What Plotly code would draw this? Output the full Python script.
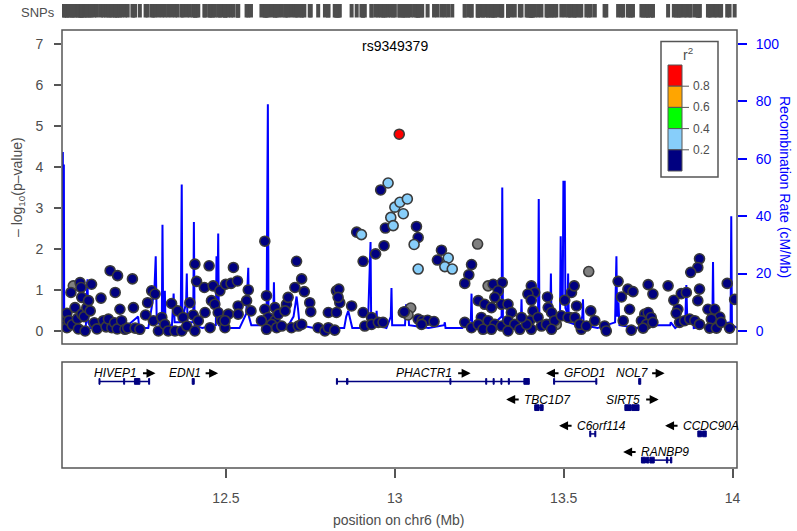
import plotly.graph_objects as go

# ---- data ----
# SNPs: position (Mb), -log10(p), r2 (None = no LD info)
navy_pos = [12.020, 12.022, 12.029, 12.029, 12.035, 12.041, 12.045, 12.053, 12.060, 12.063,
            12.068, 12.071, 12.073, 12.073, 12.080, 12.083, 12.088, 12.093, 12.098, 12.102,
            12.110, 12.118, 12.130, 12.137, 12.145, 12.152, 12.157, 12.162, 12.170, 12.172,
            12.178, 12.179, 12.186, 12.191, 12.201, 12.209, 12.223, 12.226, 12.231, 12.245,
            12.262, 12.268, 12.280, 12.285, 12.290, 12.300, 12.310, 12.319, 12.329, 12.339,
            12.349, 12.357, 12.369, 12.373, 12.384, 12.393, 12.403, 12.408, 12.408, 12.413,
            12.418, 12.436, 12.438, 12.450, 12.453, 12.457, 12.462, 12.467, 12.477, 12.482,
            12.487, 12.497, 12.499, 12.507, 12.515, 12.522, 12.534, 12.566, 12.561, 12.536,
            12.574, 12.536, 12.497, 12.615, 12.620, 12.615, 12.645, 12.625, 12.645, 12.655,
            12.635, 12.605, 12.620, 12.650, 12.679, 12.684, 12.675, 12.665, 12.694, 12.704,
            12.709, 12.714, 12.724, 12.724, 12.732, 12.748, 12.751, 12.773, 12.793, 12.803,
            12.822, 12.827, 12.834, 12.837, 12.832, 12.803, 12.827, 12.872, 12.906, 12.931,
            12.911, 12.931, 12.951, 12.965, 13.025, 12.887, 12.958, 12.972, 12.968, 12.943,
            12.906, 13.028, 13.064, 13.069, 13.138, 13.126, 13.227, 13.219, 13.207, 13.069,
            13.081, 13.097, 13.116, 13.079, 13.207, 13.227, 13.291, 13.318, 13.306, 13.247,
            13.266, 13.286, 13.316, 13.296, 13.335, 13.345, 13.256, 13.276, 13.296, 13.316,
            13.335, 13.355, 13.370, 13.247, 13.261, 13.286, 13.335, 13.404, 13.414, 13.394,
            13.404, 13.409, 13.399, 13.424, 13.434, 13.404, 13.452, 13.454, 13.464, 13.449,
            13.473, 13.493, 13.503, 13.523, 13.518, 13.464, 13.390, 13.375, 13.531, 13.538,
            13.513, 13.533, 13.552, 13.547, 13.567, 13.592, 13.580, 13.621, 13.626, 13.661,
            13.671, 13.695, 13.690, 13.705, 13.676, 13.700, 13.750, 13.764, 13.740, 13.750,
            13.759, 13.730, 13.745, 13.735, 13.764, 13.809, 13.826, 13.848, 13.863, 13.838,
            13.833, 13.843, 13.858, 13.873, 13.888, 13.902, 13.902, 13.897, 13.876, 13.902,
            13.897, 13.927, 13.947, 13.962, 13.937, 13.932, 13.952, 13.966, 13.984, 13.991,
            14.006]
navy_logp = [0.20, 0.35, 0.43, 0.08, 0.25, 0.94, 0.15, 0.57, 0.30, 0.05,
             1.18, 1.06, 0.82, 0.41, 0.35, 0.00, 0.57, 0.74, 0.49, 1.14,
             0.20, 0.05, 0.80, 0.25, 0.10, 0.29, 1.47, 0.08, 0.20, 0.94,
             0.05, 1.35, 0.53, 0.25, 0.04, 0.07, 1.27, 0.57, 0.07, 0.04,
             0.39, 0.69, 0.98, 0.25, 0.90, 0.00, 0.33, 0.16, 0.00, 0.67,
             0.00, 0.49, 0.00, 0.33, 0.12, 0.69, 0.39, 1.63, 0.00, 1.21,
             0.25, 1.06, 0.45, 1.59, 0.08, 0.74, 1.10, 0.65, 0.45, 0.98,
             0.25, 0.08, 1.14, 0.41, 1.16, 1.55, 1.22, 1.00, 0.74, 0.61,
             0.49, 0.41, 0.25, 2.19, 0.86, 0.53, 0.57, 0.33, 0.25, 0.41,
             0.16, 0.25, 0.04, 0.08, 0.65, 0.82, 0.49, 0.12, 0.08, 1.06,
             1.70, 0.12, 1.27, 0.16, 0.96, 0.69, 0.47, 0.08, 0.00, 0.08,
             0.02, 0.98, 1.02, 0.69, 0.82, 0.45, 0.45, 0.61, 0.45, 0.33,
             0.12, 0.16, 0.21, 0.21, 0.45, 2.41, 3.44, 2.51, 2.08, 1.88,
             1.70, 0.47, 2.55, 2.28, 1.97, 1.73, 1.62, 1.37, 1.16, 0.29,
             0.25, 0.26, 0.23, 0.16, 0.21, 0.08, 1.14, 1.18, 0.98, 0.74,
             0.65, 0.57, 0.65, 0.82, 0.65, 0.45, 0.33, 0.25, 0.16, 0.12,
             0.25, 0.16, 0.04, 0.16, 0.04, 0.04, 0.00, 1.10, 0.94, 0.90,
             0.75, 0.49, 0.25, 0.33, 0.12, 0.04, 0.83, 0.57, 0.45, 0.16,
             0.25, 0.37, 0.75, 0.94, 0.33, 0.04, 0.16, 0.33, 1.10, 0.61,
             0.33, 0.33, 0.04, 0.16, 0.12, 0.25, 0.49, 0.12, 0.00, 1.21,
             0.83, 0.53, 1.02, 0.96, 0.25, 0.02, 1.13, 0.90, 0.41, 0.45,
             0.33, 0.25, 0.16, 0.07, 0.21, 1.10, 0.75, 0.91, 0.94, 0.53,
             0.43, 0.21, 0.25, 0.29, 0.25, 0.16, 1.76, 1.55, 1.43, 1.02,
             0.74, 0.53, 0.53, 0.34, 0.29, 0.07, 0.07, 0.21, 1.16, 0.07,
             0.77]
ltblue_pos = [12.980, 13.000, 13.015, 13.037, 13.025, 12.988, 12.995, 12.901, 13.057, 13.069,
              13.158, 13.148, 13.170]
ltblue_logp = [3.61, 3.02, 3.14, 3.22, 2.86, 2.77, 2.57, 2.35, 2.11, 1.51,
               1.78, 1.57, 1.51]
gray_pos = [12.048, 13.047, 13.039, 13.245, 13.276, 13.478, 13.574]
gray_logp = [1.10, 0.56, 0.39, 2.12, 1.10, 0.16, 1.45]
lead_snp = "rs9349379"
lead_pos = [13.013]
lead_logp = [4.80]

# r2 estimates per group
navy_r2 = 0.1
ltblue_r2 = 0.3
lead_r2 = 1.0

# recombination rate (cM/Mb)
recomb_pos = [12.015, 12.017, 12.018, 12.019, 12.020, 12.021, 12.040, 12.060, 12.085, 12.088,
              12.090, 12.092, 12.100, 12.140, 12.200, 12.240, 12.243, 12.270, 12.288, 12.292,
              12.295, 12.310, 12.312, 12.314, 12.319, 12.321, 12.340, 12.345, 12.348, 12.366,
              12.369, 12.371, 12.382, 12.384, 12.386, 12.403, 12.405, 12.407, 12.430, 12.470,
              12.472, 12.474, 12.477, 12.479, 12.500, 12.540, 12.560, 12.566, 12.568, 12.575,
              12.620, 12.624, 12.626, 12.640, 12.642, 12.644, 12.680, 12.700, 12.705, 12.709,
              12.713, 12.718, 12.760, 12.800, 12.850, 12.856, 12.862, 12.868, 12.874, 12.920,
              12.928, 12.930, 12.944, 12.946, 12.948, 12.975, 12.988, 12.990, 12.992, 13.030,
              13.033, 13.039, 13.042, 13.100, 13.146, 13.148, 13.150, 13.200, 13.225, 13.227,
              13.229, 13.280, 13.316, 13.318, 13.320, 13.373, 13.375, 13.377, 13.424, 13.426,
              13.428, 13.460, 13.462, 13.464, 13.489, 13.491, 13.493, 13.497, 13.499, 13.503,
              13.505, 13.511, 13.513, 13.515, 13.540, 13.555, 13.557, 13.559, 13.600, 13.652,
              13.654, 13.656, 13.658, 13.662, 13.665, 13.720, 13.757, 13.759, 13.761, 13.815,
              13.817, 13.830, 13.860, 13.863, 13.866, 13.881, 13.883, 13.885, 13.940, 13.942,
              13.944, 13.994, 13.996, 13.998, 14.015]
recomb_rate = [62, 62, 2, 58, 58, 1, 1, 2, 1, 12,
               18, 3, 1, 0.5, 1, 5, 1, 1, 14, 26,
               3, 2, 37, 4, 14, 2, 2, 13, 3, 3,
               51, 4, 10, 20, 3, 3, 38, 2, 1, 2,
               26, 3, 34, 2, 1, 1, 6, 22, 5, 2,
               2, 79, 3, 4, 17, 3, 1, 5, 10, 12,
               8, 2, 1, 1, 1, 5, 7, 4, 1, 1,
               31, 2, 3, 7, 2, 1, 5, 15, 2, 2,
               9, 9, 2, 1, 2, 3, 1, 1, 4, 13,
               2, 1, 5, 50, 3, 3, 11, 2, 5, 46,
               3, 4, 20, 3, 5, 33, 10, 10, 52, 52,
               8, 6, 20, 3, 2, 5, 11, 2, 1, 3,
               26, 26, 5, 10, 2, 1, 4, 7, 2, 2,
               3, 1, 4, 16, 3, 3, 5, 1, 2, 24,
               2, 3, 40, 2, 1]

# genes
gene_names = ["HIVEP1", "EDN1", "PHACTR1", "GFOD1", "NOL7", "TBC1D7", "SIRT5", "C6orf114", "CCDC90A", "RANBP9"]
gene_start = [12.125, 12.400, 12.827, 13.470, 13.722, 13.414, 13.681, 13.577, 13.897, 13.730]
gene_end = [12.274, 12.406, 13.398, 13.598, 13.728, 13.439, 13.723, 13.595, 13.922, 13.820]
gene_strand = ["+", "+", "+", "-", "+", "-", "+", "-", "-", "-"]
gene_row = [1, 1, 1, 1, 1, 2, 2, 3, 3, 4]
gene_exons = [
    [(12.124, 12.127), (12.197, 12.200), (12.229, 12.245), (12.271, 12.274)],
    [(12.400, 12.406)],
    [(12.827, 12.830), (12.857, 12.861), (13.163, 13.166), (13.269, 13.272), (13.291, 13.294),
     (13.314, 13.317), (13.336, 13.339), (13.382, 13.398)],
    [(13.470, 13.473), (13.595, 13.598)],
    [(13.722, 13.728)],
    [(13.414, 13.427), (13.430, 13.439)],
    [(13.681, 13.700), (13.702, 13.723)],
    [(13.577, 13.580), (13.592, 13.595)],
    [(13.897, 13.908), (13.911, 13.922)],
    [(13.730, 13.742), (13.745, 13.752), (13.755, 13.768), (13.804, 13.808), (13.816, 13.820)],
]

r2_breaks = [0.0, 0.2, 0.4, 0.6, 0.8, 1.0]
r2_colors = ["#000080", "#87CEFA", "#00FF00", "#FFA500", "#FF0000"]
na_color = "#808080"

x_range = [12.0145, 14.013]
p_ticks = [0, 1, 2, 3, 4, 5, 6, 7]
rec_ticks = [0, 20, 40, 60, 80, 100]
pos_ticks = [12.5, 13, 13.5, 14]
pos_ticktext = ["12.5", "13", "13.5", "14"]

FONT = "Liberation Sans, Arial, Helvetica, sans-serif"
GREY = "#4d4d4d"
W, H = 797, 531


def r2_color(v):
    if v is None:
        return na_color
    for lo, hi, c in zip(r2_breaks[:-1], r2_breaks[1:], r2_colors):
        if lo <= v <= hi:
            return c
    return na_color


def px(x):
    return x / W


def py(y):
    return 1 - y / H


X_DOM = [px(62), px(737)]
MAIN_DOM = [py(344), py(30)]
GENE_DOM = [py(468), py(362)]
RUG_DOM = [py(17.5), py(4)]

fig = go.Figure()

# recombination rate, on base axis so it sits behind the points
fig.add_trace(go.Scatter(x=recomb_pos, y=recomb_rate, mode="lines",
                         line=dict(color="#0000FF", width=2),
                         xaxis="x", yaxis="y", hoverinfo="skip", showlegend=False))

# points, lowest LD first
groups = [(gray_pos, gray_logp, None), (navy_pos, navy_logp, navy_r2),
          (ltblue_pos, ltblue_logp, ltblue_r2), (lead_pos, lead_logp, lead_r2)]
for gx, gy, r2 in groups:
    fig.add_trace(go.Scatter(x=gx, y=gy, mode="markers",
                             marker=dict(size=10, color=r2_color(r2),
                                         line=dict(color="#3a3a3a", width=1.6)),
                             xaxis="x", yaxis="y2", showlegend=False))

# SNP rug
all_pos = gray_pos + navy_pos + ltblue_pos + lead_pos
fig.add_trace(go.Scatter(x=all_pos, y=[0.5] * len(all_pos), mode="markers",
                         marker=dict(symbol="line-ns", size=14,
                                     line=dict(color="#4d4d4d", width=4)),
                         xaxis="x3", yaxis="y4", hoverinfo="skip", showlegend=False))

# genes
shapes = []
annotations = []
gene_col = "#000080"
for name, s, e, strand, row, exons in zip(gene_names, gene_start, gene_end, gene_strand, gene_row, gene_exons):
    fig.add_trace(go.Scatter(x=[s, e], y=[row, row], mode="lines",
                             line=dict(color=gene_col, width=1.5),
                             xaxis="x2", yaxis="y3", hoverinfo="skip", showlegend=False))
    for e0, e1 in exons:
        shapes.append(dict(type="rect", xref="x2", yref="y3", x0=e0, x1=e1,
                           y0=row - 0.11, y1=row + 0.11, fillcolor=gene_col,
                           line=dict(color=gene_col, width=1), layer="above"))
    # label with strand arrow, centred on gene
    tw = sum(3.6 if c in "Ifr" else 7.0 if c.isdigit() else 8.6 if c.isupper() else 6.6 for c in name)
    alen, gap = 14, 3
    total = tw + gap + alen
    left = -total / 2
    centre = (s + e) / 2
    ly = row - 0.31
    if strand == "+":
        txt_shift, head_shift, ax = left, left + tw + gap + alen, -alen
    else:
        txt_shift, head_shift, ax = left + alen + gap, left, alen
    annotations.append(dict(x=centre, y=ly, xref="x2", yref="y3", text="<i>%s</i>" % name,
                            showarrow=False, xanchor="left", yanchor="middle", xshift=txt_shift,
                            borderpad=0, font=dict(size=12, color="black", family=FONT)))
    annotations.append(dict(x=centre, y=ly, xref="x2", yref="y3", text="", showarrow=True,
                            ax=ax, ay=0, xshift=head_shift, arrowhead=2, arrowsize=0.9,
                            arrowwidth=2, arrowcolor="black"))

# panel boxes
for dom in (MAIN_DOM, GENE_DOM):
    shapes.append(dict(type="rect", xref="paper", yref="paper", x0=X_DOM[0], x1=X_DOM[1],
                       y0=dom[0], y1=dom[1], line=dict(color="#555555", width=1.5), layer="above"))

# r2 legend
shapes.append(dict(type="rect", xref="paper", yref="paper", x0=px(661), x1=px(718),
                   y0=py(177), y1=py(41.5), fillcolor="white",
                   line=dict(color="#555555", width=1.5), layer="above"))
top, bot = 65, 171
step = (bot - top) / len(r2_colors)
for i, c in enumerate(reversed(r2_colors)):
    y1 = top + i * step
    shapes.append(dict(type="rect", xref="paper", yref="paper", x0=px(668), x1=px(682),
                       y0=py(y1 + step), y1=py(y1), fillcolor=c,
                       line=dict(color="#555555", width=1), layer="above"))
for i, b in enumerate(reversed(r2_breaks[1:-1])):
    yy = top + (i + 1) * step
    shapes.append(dict(type="line", xref="paper", yref="paper", x0=px(682), x1=px(689),
                       y0=py(yy), y1=py(yy), line=dict(color="#555555", width=1), layer="above"))
    annotations.append(dict(x=px(691), y=py(yy), xref="paper", yref="paper", text="%.1f" % b,
                            showarrow=False, xanchor="left", yanchor="middle",
                            font=dict(size=12, color=GREY, family=FONT)))


def label(x, y, text, size=14, color=GREY, angle=0):
    return dict(x=px(x), y=py(y), xref="paper", yref="paper", text=text, showarrow=False,
                xanchor="center", yanchor="middle", textangle=angle,
                font=dict(size=size, color=color, family=FONT))


annotations += [
    label(688, 54, "r<sup>2</sup>", size=14),
    label(395, 46, lead_snp, size=14, color="black"),
    label(38, 12, "SNPs", size=13),
    label(18, 187, "\u2013 log<sub>10</sub>(p\u2013value)", angle=-90),
    label(785, 187, "Recombination Rate (cM/Mb)", color="#0000FF", angle=90),
    label(399.5, 520, "position on chr6 (Mb)"),
]

fig.update_layout(
    width=W, height=H,
    margin=dict(l=0, r=0, t=0, b=0, autoexpand=False),
    paper_bgcolor="white", plot_bgcolor="white",
    font=dict(family=FONT, color=GREY),
    showlegend=False,
    xaxis=dict(domain=X_DOM, range=x_range, anchor="y", showticklabels=False, ticks="",
               showgrid=False, zeroline=False, showline=False, automargin=False),
    yaxis=dict(domain=MAIN_DOM, range=[-4.55, 104.9], anchor="x", side="right",
               tickvals=rec_ticks, ticks="outside", ticklen=9, tickwidth=1.5,
               tickcolor="#0000FF", tickfont=dict(size=14, color="#0000FF"),
               ticklabelstandoff=6, showgrid=False, zeroline=False, showline=False,
               automargin=False),
    yaxis2=dict(overlaying="y", side="left", anchor="x", range=[-0.318, 7.342],
                tickvals=p_ticks, ticks="outside", ticklen=7, tickwidth=1.5,
                tickcolor="#555555", tickfont=dict(size=14, color=GREY),
                ticklabelstandoff=8, showgrid=False, zeroline=False, showline=False,
                automargin=False),
    xaxis2=dict(domain=X_DOM, range=x_range, anchor="y3", tickvals=pos_ticks, ticktext=pos_ticktext,
                ticks="outside", ticklen=9, tickwidth=1.5, tickcolor="#555555",
                tickfont=dict(size=14, color=GREY), ticklabelstandoff=8,
                showgrid=False, zeroline=False, showline=False, automargin=False),
    yaxis3=dict(domain=GENE_DOM, range=[4.3, 0.26], anchor="x2", visible=False, automargin=False),
    xaxis3=dict(domain=X_DOM, range=x_range, anchor="y4", visible=False, automargin=False),
    yaxis4=dict(domain=RUG_DOM, range=[0, 1], anchor="x3", visible=False, automargin=False),
    shapes=shapes,
    annotations=annotations,
)

# the page's default body margin would push the figure off by 8px
fig.write_html("out.html", config={"displayModeBar": False},
               post_script="document.body.style.margin = '0px';")
